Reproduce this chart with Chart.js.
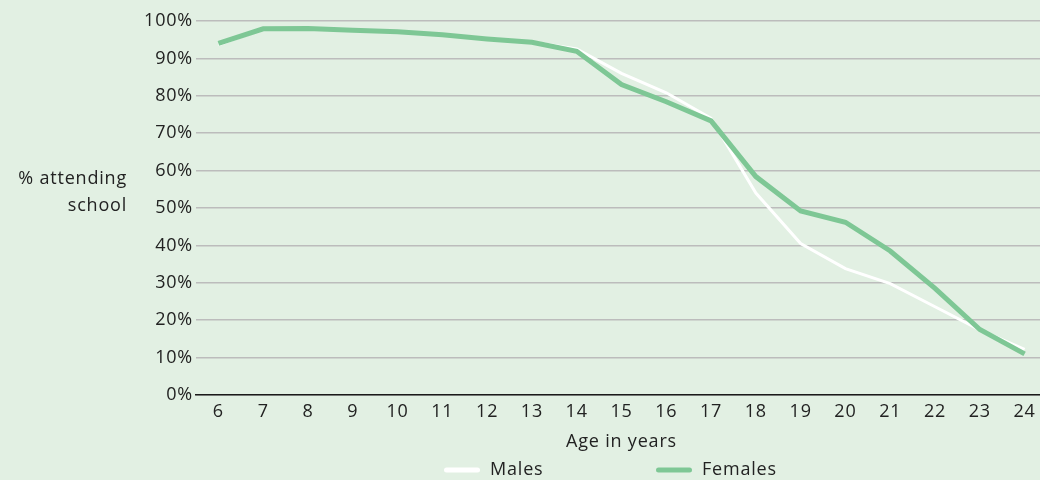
<!DOCTYPE html>
<html>
<head>
<meta charset="utf-8">
<script src="https://cdn.jsdelivr.net/npm/chart.js@4"></script>
<style>
  html, body { margin: 0; padding: 0; background: #e2f0e3; overflow: hidden; }
  #wrap { width: 1048px; height: 480px; position: relative; }
</style>
</head>
<body>
<div id="wrap"><canvas id="chart"></canvas></div>
<script>
const ages = ['6','7','8','9','10','11','12','13','14','15','16','17','18','19','20','21','22','23','24']
const males = [93.6, 97.9, 98, 97.5, 97.1, 96.4, 95.3, 94.4, 92.5, 86, 80.8, 74, 54, 40.5, 33.8, 29.8, 23.6, 17.4, 12.2]
const females = [94, 97.9, 98, 97.5, 97.1, 96.3, 95.2, 94.3, 91.9, 83, 78.4, 73.3, 58.4, 49.2, 46.2, 38.5, 28.5, 17.5, 11]
const seriesNames = ['Males', 'Females']
const yTitle = ['% attending', 'school']
const xTitle = 'Age in years'

const font = '"Open Sans", sans-serif'
const fontSize = 18
const textColor = '#222'

// a bit of tracking, the original type is set wide
const spacing = {
    id: 'spacing',
    beforeDraw (chart) {
        chart.ctx.letterSpacing = '0.8px'
    }
}

const sideTitle = {
    id: 'sideTitle',
    afterDraw (chart) {
        const {ctx} = chart
        ctx.save()
        ctx.font = `${fontSize}px ${font}`
        ctx.fillStyle = textColor
        ctx.textAlign = 'right'
        ctx.textBaseline = 'middle'
        ctx.fillText(yTitle[0], 127, 179)
        ctx.fillText(yTitle[1], 127, 206)
        ctx.restore()
    }
}

const bottomLegend = {
    id: 'bottomLegend',
    afterDraw (chart) {
        const {ctx} = chart
        ctx.save()
        ctx.font = `${fontSize}px ${font}`
        ctx.textBaseline = 'middle'
        ctx.textAlign = 'left'
        let x = 444
        const y = 470
        chart.data.datasets.slice().sort((a, b) => b.order - a.order).forEach(ds => {
            ctx.fillStyle = ds.borderColor
            ctx.beginPath()
            ctx.roundRect(x, y - 2.5, 36, 5, 2.5)
            ctx.fill()
            ctx.fillStyle = textColor
            ctx.fillText(ds.label, x + 46, y)
            x += 212
        })
        ctx.restore()
    }
}

new Chart(document.getElementById('chart'), {
    type: 'line',
    data: {
        labels: ages,
        datasets: [
            {
                label: seriesNames[0],
                data: males,
                borderColor: '#ffffff',
                borderWidth: 3,
                pointRadius: 0,
                tension: 0,
                order: 1
            },
            {
                label: seriesNames[1],
                data: females,
                borderColor: '#7ec795',
                borderWidth: 5,
                pointRadius: 0,
                tension: 0,
                order: 0
            }
        ]
    },
    options: {
        responsive: true,
        maintainAspectRatio: false,
        animation: false,
        layout: { padding: { top: 21, right: 1, bottom: 24, left: 0 } },
        plugins: {
            legend: { display: false },
            tooltip: { enabled: false }
        },
        scales: {
            x: {
                offset: true,
                grid: { display: false, drawTicks: false },
                border: { display: true, color: '#1a1a1a', width: 1.5 },
                ticks: { color: textColor, font: { family: font, size: fontSize }, padding: 6, maxRotation: 0, autoSkip: false },
                title: { display: true, text: xTitle, color: textColor, font: { family: font, size: fontSize }, padding: { top: 0, bottom: 3 } },
                afterFit (scale) { scale.height = 61 }
            },
            y: {
                min: 0,
                max: 100,
                ticks: { stepSize: 10, color: textColor, font: { family: font, size: fontSize }, padding: 3, callback: v => v + '%' },
                grid: { color: '#bcbcbc', lineWidth: 1.5, drawTicks: false },
                border: { display: false },
                afterFit (scale) { scale.width = 196 }
            }
        }
    },
    plugins: [spacing, sideTitle, bottomLegend]
})
</script>
</body>
</html>
